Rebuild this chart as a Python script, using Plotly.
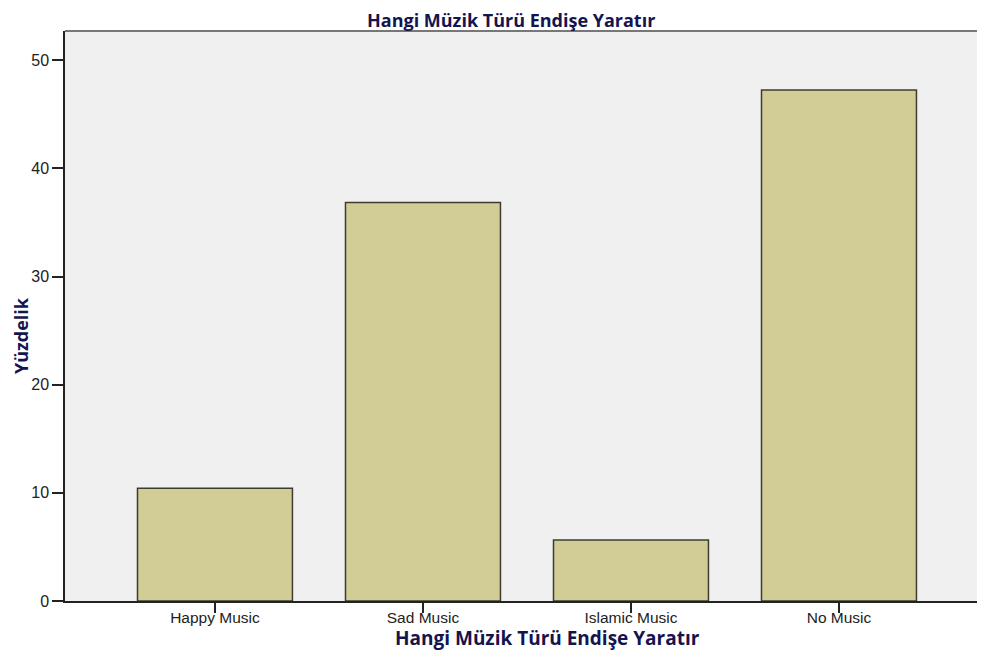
import plotly.graph_objects as go

categories = ["Happy Music", "Sad Music", "Islamic Music", "No Music"]
percentages = [10.42, 36.85, 5.64, 47.25]
y_ticks = [0, 10, 20, 30, 40, 50]

title_text = "Hangi Müzik Türü Endişe Yaratır"
y_title = "Yüzdelik"

navy = "#14144f"

# page body has an 8px margin; size figure so it fills the 985x655 window
W, H = 977, 647
L, T, B, R = 57, 23, 54, 0
PW = W - L - R
PH = H - T - B

fig = go.Figure()
fig.add_trace(go.Bar(
    x=list(range(len(categories))),
    y=percentages,
    width=0.745,
    marker=dict(color="#d2cd96", line=dict(color="#3c3c30", width=1.5)),
    hoverinfo="y",
))

fig.update_layout(
    width=W, height=H,
    margin=dict(l=L, r=R, t=T, b=B, pad=0),
    paper_bgcolor="white",
    plot_bgcolor="#f0f0f0",
    showlegend=False,
    font=dict(family="Liberation Sans, Arial, sans-serif", size=16, color="#222222"),
    xaxis=dict(
        range=[-0.721, 3.702],
        tickmode="array",
        tickvals=list(range(len(categories))),
        ticktext=categories,
        ticks="outside", ticklen=10, tickwidth=1.5, tickcolor="#222222",
        ticklabelstandoff=-8,
        showline=True, linecolor="#222222", linewidth=1.5,
        showgrid=False, zeroline=False,
        tickfont=dict(size=15.5, color="#222222"),
    ),
    yaxis=dict(
        range=[0, 52.7],
        tickmode="array",
        tickvals=y_ticks,
        ticks="outside", ticklen=11, tickwidth=1.5, tickcolor="#222222",
        showline=True, linecolor="#222222", linewidth=1.5,
        showgrid=False, zeroline=False,
        tickfont=dict(size=16, color="#222222"),
    ),
    shapes=[dict(type="line", xref="paper", yref="paper", x0=0, x1=1, y0=1, y1=1,
                 line=dict(color="#777777", width=2))],
    annotations=[
        dict(text="<b>" + title_text + "</b>", xref="paper", yref="paper",
             x=(511 - 65) / PW, y=1, yshift=11, showarrow=False,
             xanchor="center", yanchor="middle",
             font=dict(family="Open Sans, sans-serif", size=18, color=navy)),
        dict(text="<b>" + title_text + "</b>", xref="paper", yref="paper",
             x=(547 - 65) / PW, y=0, yshift=-37, showarrow=False,
             xanchor="center", yanchor="middle",
             font=dict(family="Open Sans, sans-serif", size=19, color=navy)),
        dict(text="<b>" + y_title + "</b>", xref="paper", yref="paper",
             x=0, xshift=-44, y=(601 - 336) / PH, showarrow=False,
             textangle=-90, xanchor="center", yanchor="middle",
             font=dict(family="Open Sans, sans-serif", size=18, color=navy)),
    ],
)

fig.write_html("out.html")
